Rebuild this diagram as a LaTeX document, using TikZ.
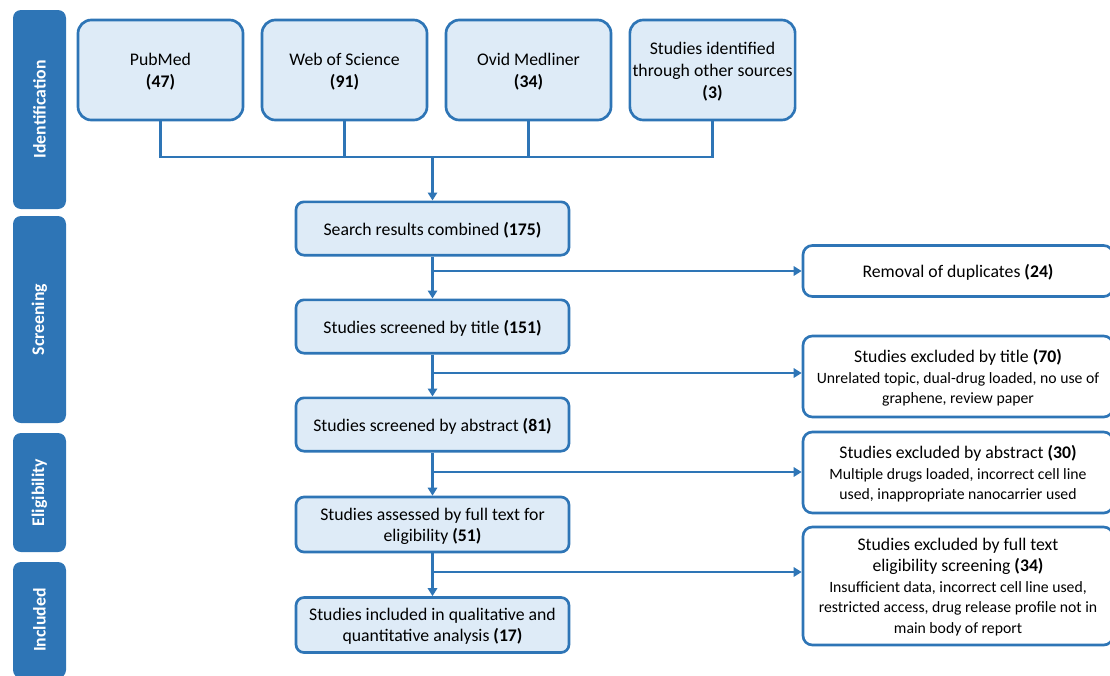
\documentclass[tikz,border=0pt]{standalone}
\usepackage{fontspec}
\setmainfont{Carlito}
\usetikzlibrary{arrows.meta}
\definecolor{prblue}{HTML}{2E75B6}
\definecolor{prfill}{HTML}{DEEBF7}
\newcommand{\smalltxt}{\fontsize{11.8}{14.25}\selectfont}
\begin{document}
\begin{tikzpicture}[x=0.75pt,y=-0.75pt,align=center,
  stage/.style={fill=prblue,rounded corners=6pt,rotate=90,minimum height=39.75pt,inner sep=0pt,text=white,font=\fontsize{13.3}{16}\selectfont\bfseries},
  src/.style={draw=prblue,line width=2pt,fill=prfill,rounded corners=10pt,minimum width=123.75pt,minimum height=75pt,inner sep=2pt,text depth=0pt,font=\fontsize{13.3}{16.5}\selectfont},
  flow/.style={draw=prblue,line width=2pt,fill=prfill,rounded corners=6pt,minimum width=204.75pt,minimum height=40pt,inner sep=2pt,text depth=0pt,font=\fontsize{13.3}{15.75}\selectfont},
  excl/.style={draw=prblue,line width=2pt,fill=white,rounded corners=7pt,minimum width=232.5pt,inner sep=2pt,text depth=0pt,font=\fontsize{13.3}{15.5}\selectfont},
  conn/.style={draw=prblue,line width=2pt},
  arr/.style={conn,-{Triangle[length=6pt,width=7pt]}}]
\useasboundingbox (0,0) rectangle (1110,675);
% stages
\node[stage,minimum width=149.25pt] (b1) at (39.5,109.5) {Identification};
\node[stage,minimum width=155.25pt] (b2) at (39.5,319.5) {Screening};
\node[stage,minimum width=89.25pt] (b3) at (39.5,492.5) {Eligibility};
\node[stage,minimum width=87pt] (b4) at (39.5,620) {Included};
% sources
\node[src] (pm) at (160.5,70) {PubMed\\\textbf{(47)}};
\node[src] (wos) at (344.5,70) {Web of Science\\\textbf{(91)}};
\node[src] (ovid) at (528.5,70) {Ovid Medliner\\\textbf{(34)}};
\node[src] (oth) at (712.5,70) {Studies identified\\through other sources\\\textbf{(3)}};
% main flow
\node[flow] (comb) at (432.5,228.5) {Search results combined \textbf{(175)}};
\node[flow] (tit) at (432.5,326.5) {Studies screened by title \textbf{(151)}};
\node[flow] (abs) at (432.5,424.5) {Studies screened by abstract \textbf{(81)}};
\node[flow,minimum height=41.25pt] (full) at (432.5,524.5) {Studies assessed by full text for\\eligibility \textbf{(51)}};
\node[flow,minimum height=41.25pt] (inc) at (432.5,625) {Studies included in qualitative and\\quantitative analysis \textbf{(17)}};
% exclusions
\node[excl,minimum height=38.25pt] (dup) at (958,271) {Removal of duplicates \textbf{(24)}};
\node[excl,minimum height=60.75pt] (exT) at (958,376.5) {Studies excluded by title \textbf{(70)}\\\smalltxt Unrelated topic, dual-drug loaded, no use of\\\smalltxt graphene, review paper};
\node[excl,minimum height=60.75pt] (exA) at (958,472.5) {Studies excluded by abstract \textbf{(30)}\\\smalltxt Multiple drugs loaded, incorrect cell line\\\smalltxt used, inappropriate nanocarrier used};
\node[excl,minimum height=88.5pt] (exF) at (958,586) {Studies excluded by full text\\eligibility screening \textbf{(34)}\\\smalltxt Insufficient data, incorrect cell line used,\\\smalltxt restricted access, drug release profile not in\\\smalltxt main body of report};
% connectors
\coordinate (j) at (432.5,157);
\coordinate (k1) at (432.5,271);
\coordinate (k2) at (432.5,373);
\coordinate (k3) at (432.5,472);
\coordinate (k4) at (432.5,572);
\draw[conn] (pm.south) -- (pm.south |- j) -- (oth.south |- j) -- (oth.south);
\draw[conn] (wos.south) -- (wos.south |- j);
\draw[conn] (ovid.south) -- (ovid.south |- j);
\draw[arr] (j) -- (comb);
\draw[arr] (comb) -- (tit);
\draw[arr] (tit) -- (abs);
\draw[arr] (abs) -- (full);
\draw[arr] (full) -- (inc);
\draw[arr] (k1) -- (k1 -| dup.west);
\draw[arr] (k2) -- (k2 -| exT.west);
\draw[arr] (k3) -- (k3 -| exA.west);
\draw[arr] (k4) -- (k4 -| exF.west);
\end{tikzpicture}
\end{document}
